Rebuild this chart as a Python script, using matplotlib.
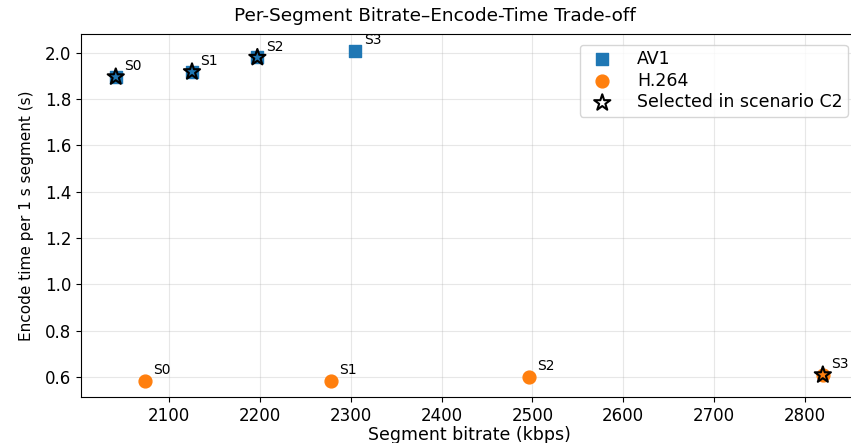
import numpy as np
import matplotlib
matplotlib.use('Agg')
import matplotlib.pyplot as plt

# per-segment data
segments = ['S0', 'S1', 'S2', 'S3']
av1_bitrate = [2041, 2125, 2197, 2305]
av1_time = [1.896, 1.918, 1.980, 2.009]
h264_bitrate = [2073, 2278, 2496, 2820]
h264_time = [0.583, 0.583, 0.600, 0.609]

# which codec was picked for each segment in scenario C2
selected_codec = ['AV1', 'AV1', 'AV1', 'H.264']

fig = plt.figure(figsize=(8.51, 4.43), dpi=100)
ax = fig.add_axes([0.0955, 0.103, 0.913, 0.820])

ax.scatter(av1_bitrate, av1_time, marker='s', s=80, color='tab:blue', label='AV1', zorder=3)
ax.scatter(h264_bitrate, h264_time, marker='o', s=85, color='tab:orange', label='H.264', zorder=3)

sel_x, sel_y = [], []
for i, codec in enumerate(selected_codec):
    if codec == 'AV1':
        sel_x.append(av1_bitrate[i]); sel_y.append(av1_time[i])
    else:
        sel_x.append(h264_bitrate[i]); sel_y.append(h264_time[i])
ax.scatter(sel_x, sel_y, marker='*', s=150, facecolors='none', edgecolors='black',
           linewidths=1.5, label='Selected in scenario C2', zorder=4)

for seg, x, y in zip(segments, av1_bitrate, av1_time):
    ax.annotate(seg, (x, y), xytext=(6, 5), textcoords='offset points', fontsize=10)
for seg, x, y in zip(segments, h264_bitrate, h264_time):
    ax.annotate(seg, (x, y), xytext=(6, 5), textcoords='offset points', fontsize=10)

ax.set_xlim(2003, 2859)
ax.set_ylim(0.512, 2.081)
ax.set_xticks(np.arange(2100, 2801, 100))
ax.set_yticks(np.arange(0.6, 2.01, 0.2))
ax.tick_params(labelsize=12)
ax.grid(True, alpha=0.3)

# title sits at the centre of the (uncropped) figure, not the axes
fig.suptitle('Per-Segment Bitrate\u2013Encode-Time Trade-off', fontsize=13.3, x=0.511, y=0.985)
ax.set_xlabel('Segment bitrate (kbps)', fontsize=12.5, labelpad=1)
ax.set_ylabel('Encode time per 1 s segment (s)', fontsize=11, labelpad=8)
ax.legend(loc='upper right', fontsize=12.5, labelspacing=0.22, borderpad=0.3,
          handletextpad=1.0, borderaxespad=0.6)

fig.savefig('out.png', dpi=100)
